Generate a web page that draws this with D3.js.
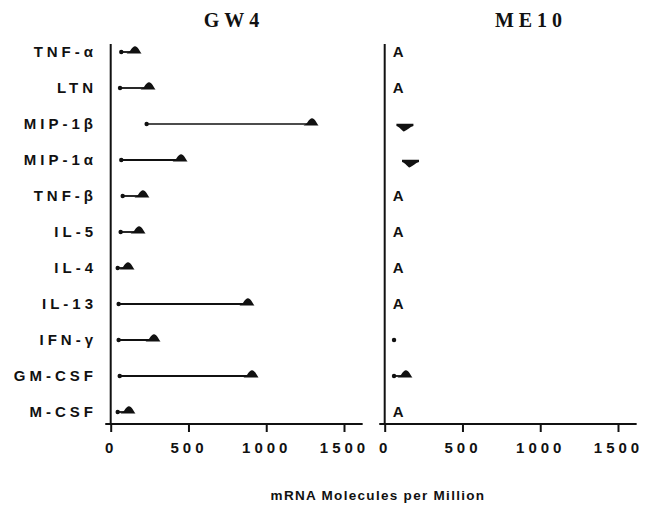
<!DOCTYPE html>
<html>
<head>
<meta charset="utf-8">
<script src="https://cdn.jsdelivr.net/npm/d3@7"></script>
<style>
  body { margin: 0; background: #fff; }
  svg { display: block; }
</style>
</head>
<body>
<div id="chart"></div>
<script>
const categories = ["TNF-α", "LTN", "MIP-1β", "MIP-1α", "TNF-β", "IL-5", "IL-4", "IL-13", "IFN-γ", "GM-CSF", "M-CSF"];

// GW4: low end (dot) and high end (filled marker)
const gw4Low  = [68, 60, 231, 68, 77, 64, 45, 51, 51, 58, 45];
const gw4High = [150, 240, 1288, 446, 201, 176, 105, 876, 272, 902, 111];

// ME10: "A" = absent, "dot" = only a low value, "up"/"down" = marker direction
const me10Low    = [null, null, null, null, null, null, null, null, 60, 60, null];
const me10High   = [null, null, 130, 166, null, null, null, null, null, 130, null];
const me10Marker = ["A", "A", "down", "down", "A", "A", "A", "A", "dot", "up", "A"];

const tickValues = [0, 500, 1000, 1500];
const panelTitles = ["GW4", "ME10"];
const xTitle = "mRNA Molecules per Million";

const width = 653, height = 506;
const sans = "'Liberation Sans', Arial, Helvetica, sans-serif";
const serif = "'Liberation Serif', 'Times New Roman', serif";

const svg = d3.select("#chart")
  .append("svg")
  .attr("width", width)
  .attr("height", height)
  .attr("viewBox", `0 0 ${width} ${height}`);

const y = d3.scalePoint().domain(categories).range([52, 412]);
const xLeft = d3.scaleLinear().domain([0, 1500]).range([110.7, 344]);
const xRight = d3.scaleLinear().domain([0, 1500]).range([384.7, 618]);
const axisY = 424;

// mound sitting on the line, peak a bit right of centre
const humpUp = "M-7.5,1.6 L-6,0.6 C-3.5,-0.5 -2,-5.6 1,-5.8 C3.5,-5.8 5.5,-1.5 7.5,1.6 Z";
// flat bar on top with a point below
const humpDown = "M-8.5,-2.2 L8.5,-2.2 L8.5,0 C5,0.8 2,4.5 -1,5.6 C-3,4.8 -5,1.2 -8.5,0 Z";

function drawAxes(x, title, titleX) {
  const g = svg.append("g");

  g.append("text")
    .attr("x", titleX)
    .attr("y", 27)
    .attr("text-anchor", "middle")
    .attr("font-family", serif)
    .attr("font-weight", "bold")
    .attr("font-size", 20)
    .attr("letter-spacing", 5)
    .attr("fill", "#111")
    .text(title);

  // vertical axis line
  g.append("line")
    .attr("x1", x(0)).attr("x2", x(0))
    .attr("y1", 44).attr("y2", axisY)
    .attr("stroke", "#111")
    .attr("stroke-width", 2);

  // horizontal axis line
  g.append("line")
    .attr("x1", x(-35)).attr("x2", x(1620))
    .attr("y1", axisY).attr("y2", axisY)
    .attr("stroke", "#111")
    .attr("stroke-width", 2);

  const ax = g.append("g")
    .attr("transform", `translate(0,${axisY})`)
    .call(d3.axisBottom(x).tickValues(tickValues).tickFormat(d3.format("d"))
      .tickSize(8).tickSizeOuter(0).tickPadding(10));
  ax.select(".domain").remove();
  ax.selectAll(".tick line").attr("stroke", "#111").attr("stroke-width", 2);
  ax.selectAll(".tick text")
    .attr("font-family", sans)
    .attr("font-weight", "bold")
    .attr("font-size", 15)
    .attr("letter-spacing", 4)
    .attr("fill", "#111");
  return g;
}

// ---- GW4 panel
const left = drawAxes(xLeft, panelTitles[0], 234);

left.append("g")
  .selectAll("text")
  .data(categories)
  .join("text")
  .attr("x", 97)
  .attr("y", d => y(d))
  .attr("dy", "0.36em")
  .attr("text-anchor", "end")
  .attr("font-family", sans)
  .attr("font-weight", "bold")
  .attr("font-size", 15)
  .attr("letter-spacing", 4)
  .attr("fill", "#111")
  .text(d => d);

const gwRows = categories.map((c, i) => ({ c, lo: gw4Low[i], hi: gw4High[i] }));

left.append("g")
  .selectAll("line")
  .data(gwRows)
  .join("line")
  .attr("x1", d => xLeft(d.lo))
  .attr("x2", d => xLeft(d.hi))
  .attr("y1", d => y(d.c))
  .attr("y2", d => y(d.c))
  .attr("stroke", "#111")
  .attr("stroke-width", d => d.hi > 1000 ? 1.3 : 1.8);

left.append("g")
  .selectAll("circle")
  .data(gwRows)
  .join("circle")
  .attr("cx", d => xLeft(d.lo))
  .attr("cy", d => y(d.c))
  .attr("r", 2.2)
  .attr("fill", "#111");

left.append("g")
  .selectAll("path")
  .data(gwRows)
  .join("path")
  .attr("transform", d => `translate(${xLeft(d.hi)},${y(d.c)})`)
  .attr("d", humpUp)
  .attr("fill", "#111");

// ---- ME10 panel
const right = drawAxes(xRight, panelTitles[1], 531);

const meRows = categories.map((c, i) => ({ c, lo: me10Low[i], hi: me10High[i], m: me10Marker[i] }));

right.append("g")
  .selectAll("text")
  .data(meRows.filter(d => d.m === "A"))
  .join("text")
  .attr("x", xRight(0) + 8)
  .attr("y", d => y(d.c))
  .attr("dy", "0.36em")
  .attr("font-family", sans)
  .attr("font-weight", "bold")
  .attr("font-size", 15)
  .attr("fill", "#111")
  .text("A");

const withLow = meRows.filter(d => d.lo != null);
right.append("g")
  .selectAll("line")
  .data(withLow.filter(d => d.hi != null))
  .join("line")
  .attr("x1", d => xRight(d.lo))
  .attr("x2", d => xRight(d.hi))
  .attr("y1", d => y(d.c))
  .attr("y2", d => y(d.c))
  .attr("stroke", "#111")
  .attr("stroke-width", 1.8);

right.append("g")
  .selectAll("circle")
  .data(withLow)
  .join("circle")
  .attr("cx", d => xRight(d.lo))
  .attr("cy", d => y(d.c))
  .attr("r", 2.2)
  .attr("fill", "#111");

right.append("g")
  .selectAll("path")
  .data(meRows.filter(d => d.hi != null))
  .join("path")
  .attr("transform", d => `translate(${xRight(d.hi)},${y(d.c) + (d.m === "down" ? 2 : 0)})`)
  .attr("d", d => d.m === "down" ? humpDown : humpUp)
  .attr("fill", "#111");

// shared x title
svg.append("text")
  .attr("x", 378)
  .attr("y", 500)
  .attr("text-anchor", "middle")
  .attr("font-family", sans)
  .attr("font-weight", "bold")
  .attr("font-size", 13.5)
  .attr("letter-spacing", 1.3)
  .attr("fill", "#111")
  .text(xTitle);
</script>
</body>
</html>
